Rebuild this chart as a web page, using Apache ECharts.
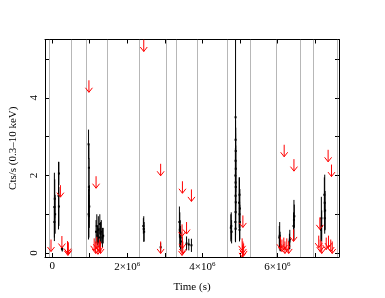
<!DOCTYPE html>
<html><head><meta charset="utf-8">
<script src="https://cdn.jsdelivr.net/npm/echarts@6/dist/echarts.min.js"></script>
<style>html,body{margin:0;padding:0;background:#fff}#c{width:385px;height:298px}</style>
</head><body><div id="c"></div>
<script>
// time values in units of 1e6 s
const xTickValues = [0, 1, 2, 3, 4, 5, 6, 7];
const xLabelValues = [0, 2, 4, 6];
const xLabelTexts = ['0', '2×10^6', '4×10^6', '6×10^6'];
const yTickValues = [0, 1, 2, 3, 4, 5];
const yLabelValues = [0, 2, 4];
const boundaries = [-0.08, 0.50, 0.89, 1.46, 2.31, 3.03, 3.29, 3.86, 4.65, 5.28, 5.97, 6.60, 6.96, 7.58];

// detections: time (Ms), rate, error
const detTime = [0.06,0.06,0.07,0.08,0.17,0.18,0.18,0.26,0.27,
  0.97,0.98,0.98,0.99,0.98,0.97,1.17,1.19,1.21,1.23,1.25,1.27,1.29,1.31,1.34,1.36,
  2.44,2.45,2.43,2.89,
  3.39,3.40,3.41,3.42,3.43,3.58,3.64,3.71,
  4.76,4.77,4.78,4.885,4.885,4.89,4.885,4.89,4.88,4.885,4.89,4.885,4.89,4.885,4.88,4.885,4.98,4.99,5.00,4.99,5.00,4.99,
  6.05,6.06,6.07,6.08,6.33,6.32,6.43,6.44,6.45,
  7.17,7.18,7.16,7.25,7.26,7.27,7.26];
const detRate = [1.19,0.8,1.4,1.0,1.48,1.2,2.05,0.12,0.1,
  2.8,2.2,1.7,1.2,0.95,1.0,0.55,0.7,0.45,0.6,0.4,0.75,0.5,0.55,0.4,0.45,
  0.62,0.55,0.7,0.15,
  0.8,0.6,0.5,0.4,0.3,0.25,0.22,0.2,
  0.65,0.7,0.55,3.5,2.92,2.63,2.38,2.17,2.0,1.82,1.7,1.48,1.31,1.06,0.8,0.63,1.3,1.0,0.8,0.6,1.15,1.5,
  0.4,0.45,0.3,0.2,0.35,0.3,0.7,0.85,0.95,
  0.9,0.7,0.6,1.5,1.3,1.1,0.9];
const detErr = [0.88,0.4,0.5,0.5,0.87,0.5,0.3,0.05,0.06,
  0.38,0.6,0.75,0.55,0.55,0.65,0.3,0.3,0.25,0.35,0.25,0.25,0.3,0.3,0.25,0.2,
  0.33,0.25,0.2,0.12,
  0.4,0.45,0.35,0.3,0.25,0.18,0.15,0.17,
  0.35,0.35,0.3,2.3,0.5,0.6,0.7,0.6,0.7,0.8,0.7,0.6,0.7,0.6,0.5,0.35,0.65,0.5,0.45,0.3,0.5,0.45,
  0.3,0.35,0.25,0.15,0.25,0.2,0.35,0.52,0.3,
  0.55,0.4,0.3,0.45,0.72,0.5,0.4];

// upper limits: time (Ms), rate
const ulTime = [-0.03,0.22,0.26,0.41,0.43,0.42,
  0.98,1.17,1.12,1.16,1.19,1.22,1.26,1.29,
  2.44,2.89,2.89,
  3.47,3.71,3.58,3.46,3.47,3.46,3.48,
  5.08,5.06,5.08,5.10,5.07,
  6.18,6.44,6.43,6.08,6.12,6.17,6.20,6.25,6.30,
  7.35,7.44,7.13,7.10,7.14,7.18,7.30,7.36,7.42,7.46];
const ulRate = [0.35,1.75,0.44,0.31,0.28,0.25,
  4.45,1.98,0.38,0.3,0.42,0.28,0.35,0.3,
  5.5,2.3,0.3,
  1.85,1.64,0.8,0.74,0.43,0.25,0.3,
  0.97,0.38,0.3,0.25,0.2,
  2.79,2.42,0.61,0.42,0.35,0.4,0.3,0.38,0.3,
  2.66,2.28,0.92,0.45,0.35,0.3,0.4,0.45,0.35,0.3];

const M = 1e6;
const detData = detTime.map((t, i) => [t * M, detRate[i], detErr[i]]);
const ulData = ulTime.map((t, i) => [t * M, ulRate[i]]);
const FONT = 'Liberation Serif';

const chart = echarts.init(document.getElementById('c'), null, {renderer: 'canvas'});
const baseX = {
  type: 'value', min: -0.19 * M, max: 7.64 * M,
  axisLine: {show: true, onZero: false, lineStyle: {color: '#000', width: 1}},
  axisTick: {show: true, inside: true, length: 4, lineStyle: {color: '#000'}, customValues: xTickValues.map(v => v * M)},
  splitLine: {show: false}
};
const baseY = {
  type: 'value', min: -0.1, max: 5.5,
  axisLine: {show: true, onZero: false, lineStyle: {color: '#000', width: 1}},
  axisTick: {show: true, inside: true, length: 4, lineStyle: {color: '#000'}, customValues: yTickValues},
  splitLine: {show: false}
};
chart.setOption({
  animation: false,
  backgroundColor: '#fff',
  grid: {left: 45, right: 46, top: 39.5, bottom: 40},
  xAxis: [
    Object.assign({}, baseX, {
      position: 'bottom',
      name: 'Time (s)', nameLocation: 'middle', nameGap: 25,
      nameTextStyle: {fontFamily: FONT, fontSize: 11, color: '#000'},
      axisLabel: {
        show: true, margin: 4, color: '#000', fontFamily: FONT, fontSize: 11,
        customValues: xLabelValues.map(v => v * M),
        formatter: v => {
          const i = xLabelValues.indexOf(Math.round(v / M));
          const s = i >= 0 ? xLabelTexts[i] : '';
          return s.replace(/\^(\d+)/, '{s|$1}');
        },
        rich: {s: {fontFamily: FONT, fontSize: 7, color: '#000', verticalAlign: 'top', padding: [0, 0, 6, 0]}}
      }
    }),
    Object.assign({}, baseX, {position: 'top', axisLabel: {show: false}})
  ],
  yAxis: [
    Object.assign({}, baseY, {
      position: 'left',
      name: 'Cts/s (0.3–10 keV)', nameLocation: 'middle', nameGap: 26, nameRotate: 90,
      nameTextStyle: {fontFamily: FONT, fontSize: 11, color: '#000'},
      axisLabel: {show: true, rotate: 90, margin: 5, color: '#000', fontFamily: FONT, fontSize: 11,
        customValues: yLabelValues}
    }),
    Object.assign({}, baseY, {position: 'right', axisLabel: {show: false}})
  ],
  series: [
    {
      type: 'custom', name: 'bounds', clip: true,
      data: boundaries.map(b => [b * M]),
      renderItem: (params, api) => {
        const t = api.value(0);
        const a = api.coord([t, 5.5]);
        const b = api.coord([t, -0.1]);
        const x = Math.round(a[0]) + 0.5;
        return {type: 'line', shape: {x1: x, y1: a[1], x2: x, y2: b[1]},
          style: {stroke: '#707070', lineWidth: 1, lineDash: [1, 1]}};
      },
      z: 1
    },
    {
      type: 'custom', name: 'det', clip: true,
      data: detData,
      renderItem: (params, api) => {
        const t = api.value(0), v = api.value(1), e = api.value(2);
        const hi = api.coord([t, v + e]);
        const lo = api.coord([t, v - e]);
        const c = api.coord([t, v]);
        return {type: 'group', children: [
          {type: 'line', shape: {x1: hi[0], y1: hi[1], x2: lo[0], y2: lo[1]}, style: {stroke: '#000', lineWidth: 1}},
          {type: 'rect', shape: {x: c[0] - 1, y: c[1] - 1, width: 2, height: 2}, style: {fill: '#000'}}
        ]};
      },
      z: 3
    },
    {
      type: 'custom', name: 'ul', clip: true,
      data: ulData,
      renderItem: (params, api) => {
        const p = api.coord([api.value(0), api.value(1)]);
        const x = p[0], y = p[1];
        return {type: 'group', children: [
          {type: 'line', shape: {x1: x, y1: y, x2: x, y2: y + 12}, style: {stroke: '#ff0000', lineWidth: 1}},
          {type: 'polyline', shape: {points: [[x - 3.5, y + 7.5], [x, y + 12], [x + 3.5, y + 7.5]]},
            style: {stroke: '#ff0000', lineWidth: 1, fill: null}}
        ]};
      },
      z: 4
    }
  ]
});
</script>
</body></html>
